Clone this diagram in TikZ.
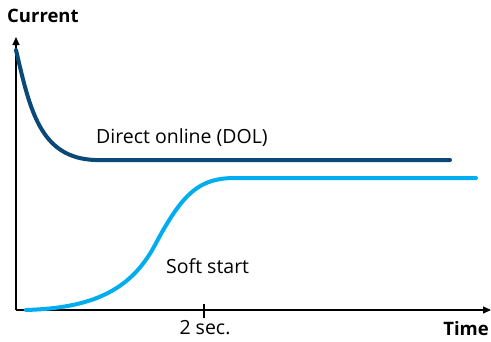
\documentclass[tikz,border=0pt]{standalone}
\usepackage{fontspec}
\setmainfont{Open Sans}
\usetikzlibrary{arrows.meta,positioning}
\definecolor{dolblue}{RGB}{10,72,120}
\definecolor{softblue}{RGB}{0,174,239}

\begin{document}
\begin{tikzpicture}[x=1pt,y=-1pt,% styles for the plot
			every node/.style={inner sep=0pt,font=\fontsize{19.5}{23}\selectfont},
			axislabel/.style={font=\fontsize{18.5}{22}\selectfont\bfseries},
			axis/.style={draw,line width=1.1pt,-{Triangle[length=8pt,width=7pt]}},
			curve/.style={line width=4pt,line cap=round}
		]
		\useasboundingbox (0,0) rectangle (491,341);
		\coordinate (O) at (16,310);
		\coordinate (ytop) at (16,37);
		\coordinate (xend) at (491,310);
		\node[axislabel,anchor=west](ylabel) at (7,16){Current};
		\node[axislabel,anchor=east](xlabel) at (489,329){Time};
		\draw[axis] (O) -- (ytop);
		\draw[axis] (O) -- (xend);
		% tick at 2 sec
		\coordinate (tick) at (204,310);
		\draw[line width=1.1pt] ([yshift=-8pt]tick) -- ([yshift=6pt]tick);
		\node(ticklabel) at (205,328){2 sec.};
		% direct online curve
		\draw[curve,dolblue] (16,50) .. controls (30,110) and (40,158) .. (95,160) -- (450,160);
		\node[anchor=west](dol) at (96,138){Direct online (DOL)};
		% soft start curve
		\draw[curve,softblue] (26,310) .. controls (90,308) and (130,292) .. (155,245)
			.. controls (183,192) and (200,178) .. (235,178) -- (476,178);
		\node[anchor=west](soft) at (166,266){Soft start};
	\end{tikzpicture}
\end{document}
